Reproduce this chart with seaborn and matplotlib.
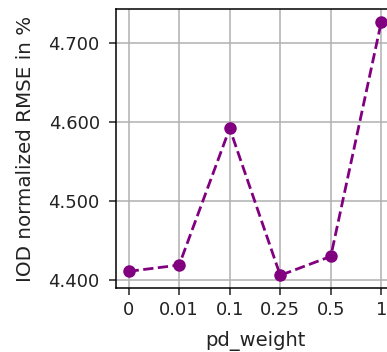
import matplotlib
matplotlib.use("Agg")
import matplotlib.pyplot as plt
import matplotlib.ticker as mticker
import seaborn as sns
import pandas as pd

# values
pd_weights = ["0", "0.01", "0.1", "0.25", "0.5", "1"]
rmse = [4.411, 4.419, 4.592, 4.406, 4.430, 4.727]

df = pd.DataFrame({"pd_weight": pd_weights, "rmse": rmse})

fig = plt.figure(figsize=(3.87, 3.52), dpi=100)
# axes run past the right edge, as in the cropped reference
ax = fig.add_axes([0.2997, 0.1818, 0.7183, 0.7926])

sns.lineplot(data=df, x="pd_weight", y="rmse", sort=False, ax=ax,
             color="purple", linestyle="--", linewidth=2,
             marker="o", markersize=9, markeredgewidth=0)

ax.grid(True, color="#b0b0b0", linewidth=1.1)
ax.set_axisbelow(True)
for sp in ax.spines.values():
    sp.set_linewidth(1.1)
ax.tick_params(labelsize=13, length=4.7, width=1.1, colors="#222222")
ax.tick_params(axis="x", pad=5)
ax.tick_params(axis="y", pad=7)
ax.yaxis.set_major_formatter(mticker.FormatStrFormatter("%.3f"))
ax.yaxis.set_major_locator(mticker.MultipleLocator(0.1))
ax.set_xlabel("pd_weight", fontsize=14, color="#222222", labelpad=8)
ax.set_ylabel("IOD normalized RMSE in %", fontsize=14.3, color="#222222", labelpad=10)

fig.savefig("out.png", dpi=100)
